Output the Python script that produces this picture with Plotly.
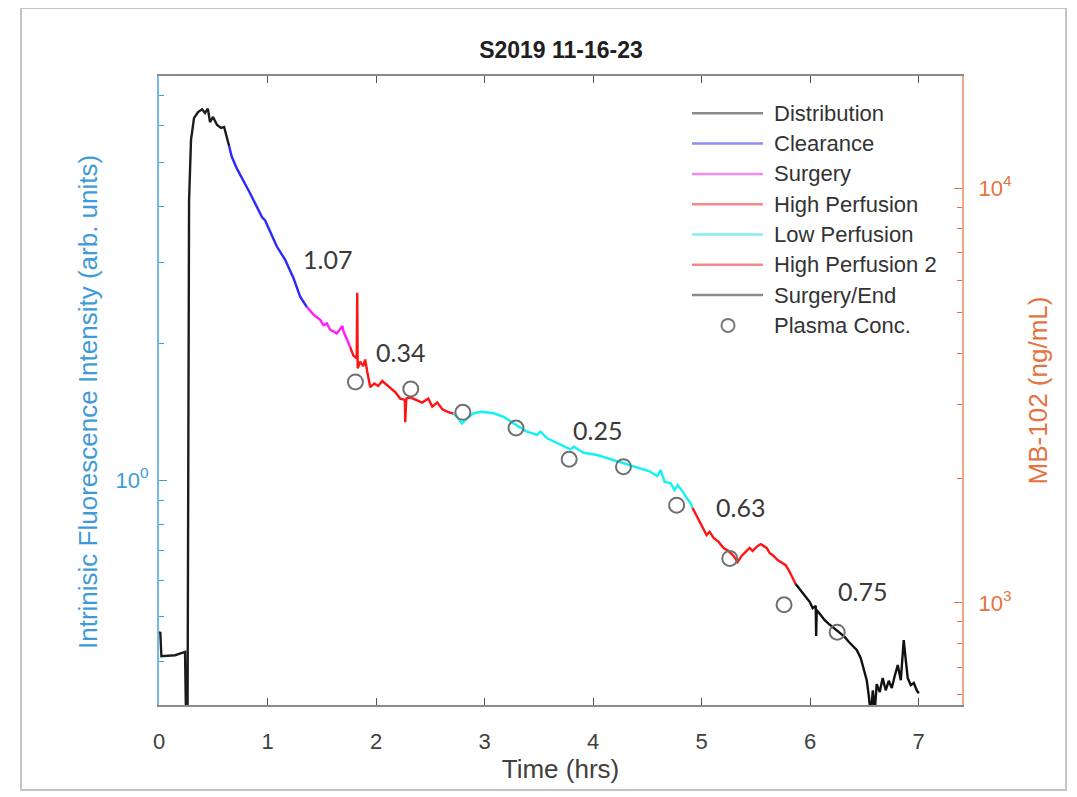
import plotly.graph_objects as go

# ---------------- data ----------------
dist_t = [0.0, 0.012, 0.022, 0.148, 0.24, 0.249, 0.263, 0.268, 0.277, 0.295, 0.323, 0.36, 0.397,
          0.424, 0.45, 0.47, 0.498, 0.535, 0.572, 0.6, 0.627, 0.646]
dist_v = [0.46, 0.463, 0.41, 0.412, 0.419, 0.30, 0.30, 1.50, 4.12, 5.59, 6.25, 6.44, 6.53,
          6.41, 6.55, 6.12, 6.28, 6.03, 5.94, 5.97, 5.59, 5.42]

clr_t = [0.646, 0.67, 0.717, 0.778, 0.839, 0.901, 0.95, 0.978, 1.008, 1.04, 1.086, 1.162,
         1.239, 1.301, 1.363]
clr_v = [5.42, 5.14, 4.84, 4.56, 4.27, 3.99, 3.78, 3.72, 3.58, 3.45, 3.26, 3.05,
         2.78, 2.53, 2.40]

srg_t = [1.363, 1.424, 1.485, 1.516, 1.547, 1.577, 1.639, 1.69, 1.701, 1.716, 1.762]
srg_v = [2.40, 2.31, 2.25, 2.19, 2.21, 2.14, 2.10, 2.18, 2.12, 2.08, 1.96]

hp1_t = [1.762, 1.79, 1.822, 1.827, 1.831, 1.854, 1.882, 1.90, 1.919, 1.947, 1.984, 2.02,
         2.057, 2.085, 2.131, 2.177, 2.223, 2.26, 2.266, 2.269, 2.279, 2.315, 2.371, 2.426,
         2.482, 2.518, 2.565, 2.611, 2.666, 2.712]
hp1_v = [1.96, 1.88, 1.85, 2.58, 1.76, 1.82, 1.78, 1.84, 1.73, 1.60, 1.63, 1.61,
         1.65, 1.63, 1.59, 1.56, 1.51, 1.50, 1.50, 1.34, 1.51, 1.52, 1.50, 1.48,
         1.51, 1.45, 1.48, 1.43, 1.41, 1.40]

lp_t = [2.712, 2.731, 2.792, 2.839, 2.899, 2.977, 3.084, 3.176, 3.268, 3.392, 3.484, 3.515,
        3.577, 3.699, 3.792, 3.822, 3.914, 4.038, 4.161, 4.283, 4.437, 4.52, 4.591, 4.622,
        4.66, 4.714, 4.75, 4.78, 4.837, 4.86, 4.9, 4.917]
lp_v = [1.40, 1.39, 1.332, 1.366, 1.402, 1.413, 1.402, 1.377, 1.332, 1.277, 1.256, 1.277,
        1.235, 1.194, 1.168, 1.184, 1.148, 1.135, 1.111, 1.088, 1.061, 1.045, 1.02, 1.052,
        0.99, 0.985, 0.95, 0.975, 0.935, 0.915, 0.889, 0.868]

hp2_t = [4.917, 4.963, 5.009, 5.046, 5.074, 5.111, 5.157, 5.203, 5.249, 5.295, 5.332, 5.369,
         5.406, 5.443, 5.47, 5.507, 5.544, 5.572, 5.60, 5.627, 5.664, 5.701, 5.738, 5.775,
         5.803, 5.839, 5.867]
hp2_v = [0.868, 0.825, 0.784, 0.757, 0.769, 0.746, 0.731, 0.709, 0.698, 0.681, 0.660, 0.681,
         0.695, 0.709, 0.698, 0.713, 0.723, 0.716, 0.709, 0.691, 0.681, 0.667, 0.657, 0.650,
         0.634, 0.609, 0.591]

end_t = [5.867, 5.913, 5.96, 5.996, 6.024, 6.052, 6.056, 6.061, 6.098, 6.135, 6.172, 6.208,
         6.245, 6.282, 6.319, 6.356, 6.393, 6.43, 6.467, 6.494, 6.522, 6.54, 6.559, 6.578,
         6.596, 6.614, 6.642, 6.669, 6.697, 6.725, 6.753, 6.78, 6.808, 6.836, 6.863, 6.882,
         6.90, 6.928, 6.956, 6.983, 7.002]
end_v = [0.591, 0.573, 0.553, 0.540, 0.523, 0.529, 0.454, 0.518, 0.505, 0.492, 0.483, 0.475,
         0.468, 0.459, 0.452, 0.441, 0.432, 0.423, 0.406, 0.386, 0.363, 0.337, 0.305, 0.345,
         0.31, 0.356, 0.342, 0.367, 0.345, 0.362, 0.349, 0.371, 0.392, 0.363, 0.445, 0.402,
         0.367, 0.354, 0.358, 0.345, 0.340]

plasma_t = [1.81, 2.32, 2.80, 3.29, 3.78, 4.28, 4.77, 5.26, 5.76, 6.25]
plasma_c = [3410, 3280, 2880, 2640, 2220, 2130, 1720, 1280, 990, 850]

slope_labels = ["1.07", "0.34", "0.25", "0.63", "0.75"]
slope_t = [1.55, 2.23, 4.04, 5.36, 6.48]
slope_logy = [0.486, 0.281, 0.110, -0.059, -0.244]

x_ticks = [0, 1, 2, 3, 4, 5, 6, 7]

series_names = ["Distribution", "Clearance", "Surgery", "High Perfusion",
                "Low Perfusion", "High Perfusion 2", "Surgery/End"]
series_t = [dist_t, clr_t, srg_t, hp1_t, lp_t, hp2_t, end_t]
series_v = [dist_v, clr_v, srg_v, hp1_v, lp_v, hp2_v, end_v]
series_colors = ["#1c1c1c", "#2a2aff", "#ff1cff", "#ff1414", "#12f2f2", "#ff1414", "#111111"]
legend_line_colors = ["#8a8a8a", "#8c8cf2", "#f08cf0", "#f28a8a", "#86eef2", "#f28a8a", "#8a8a8a"]
plasma_name = "Plasma Conc."
left_title = "Intrinisic Fluorescence Intensity (arb. units)"

# ---------------- geometry (page pixels; page body has an 8px margin) ----------------
W, H = 1077, 797
OFF = 8
L, R, T, B = 159, 962, 76, 705
PW, PH = R - L, B - T


def px(xp):
    return (xp - L) / PW


def py(yp):
    return (B - yp) / PH


BLUE = "#3f9bd8"
BLUE_LINE = "#78b8e6"
ORANGE = "#e4733f"
ORANGE_LINE = "#f2a687"
GRAY_TXT = "#404040"
FONT = "Liberation Sans, Arial, sans-serif"

fig = go.Figure()
for name, t, v, c in zip(series_names, series_t, series_v, series_colors):
    fig.add_trace(go.Scatter(x=t, y=v, mode="lines", name=name,
                             line=dict(color=c, width=2.4), showlegend=False))

fig.add_trace(go.Scatter(x=plasma_t, y=plasma_c, mode="markers", name=plasma_name,
                         yaxis="y2", showlegend=False,
                         marker=dict(symbol="circle-open", size=15,
                                     line=dict(color="#707070", width=2),
                                     color="#707070")))

for lab, t, ly in zip(slope_labels, slope_t, slope_logy):
    fig.add_annotation(x=t, y=ly, xref="x", yref="y", text=lab, showarrow=False,
                       font=dict(family="Lato, Open Sans, sans-serif", size=25, color="#3a3a3a"))

# custom legend (MATLAB-style long line samples)
shapes = []
row0, drow = 113.3, 30.3
for i, (name, c) in enumerate(zip(series_names, legend_line_colors)):
    yy = row0 + i * drow
    shapes.append(dict(type="line", xref="paper", yref="paper",
                       x0=px(692), x1=px(763), y0=py(yy), y1=py(yy),
                       line=dict(color=c, width=2.5)))
    fig.add_annotation(x=px(772), y=py(yy), xref="paper", yref="paper", text=name,
                       showarrow=False, xanchor="left", yanchor="middle",
                       font=dict(family=FONT, size=22, color="#333333"))
yy = row0 + 7 * drow
r = 6.5
shapes.append(dict(type="circle", xref="paper", yref="paper",
                   x0=px(728 - r), x1=px(728 + r), y0=py(yy + r), y1=py(yy - r),
                   line=dict(color="#777777", width=2)))
fig.add_annotation(x=px(772), y=py(yy), xref="paper", yref="paper", text=plasma_name,
                   showarrow=False, xanchor="left", yanchor="middle",
                   font=dict(family=FONT, size=22, color="#333333"))

# left axis title (placed like the reference)
fig.add_annotation(x=px(88), y=py(402), xref="paper", yref="paper", text=left_title,
                   textangle=-90, showarrow=False, xanchor="center", yanchor="middle",
                   font=dict(family=FONT, size=26, color=BLUE))

# screenshot frame
shapes.append(dict(type="rect", xref="paper", yref="paper", layer="below",
                   x0=px(21), x1=px(1066), y0=py(790), y1=py(8),
                   line=dict(color="#c4c4c4", width=2)))

fig.update_layout(
    width=W, height=H,
    margin=dict(l=L - OFF, r=W + OFF - R, t=T - OFF, b=H + OFF - B, autoexpand=False),
    paper_bgcolor="white", plot_bgcolor="white",
    showlegend=False,
    shapes=shapes,
    title=dict(text="<b>S2019 11-16-23</b>", x=px(561), xref="paper", xanchor="center",
               y=1 - (50 - OFF) / H, yanchor="middle",
               font=dict(family=FONT, size=23, color="#202020")),
    xaxis=dict(range=[0, 7.4], tickmode="array", tickvals=x_ticks,
               ticks="inside", ticklen=7, tickwidth=1.2, tickcolor="#555555",
               showline=True, linecolor="#8a8a8a", linewidth=2, mirror="ticks",
               showgrid=False, zeroline=False, automargin=False,
               tickfont=dict(family=FONT, size=22, color=GRAY_TXT),
               ticklabelstandoff=16,
               title=dict(text="Time (hrs)", standoff=4,
                          font=dict(family=FONT, size=26, color=GRAY_TXT))),
    yaxis=dict(type="log", range=[-0.4945, 0.888], tickmode="array", tickvals=[1],
               ticktext=["10<sup>0</sup>"],
               ticks="inside", ticklen=8, tickwidth=1.2, tickcolor=BLUE,
               minor=dict(tickmode="array",
                          tickvals=[0.4, 0.5, 0.6, 0.7, 0.8, 0.9, 2, 3, 4, 5, 6, 7],
                          ticks="inside", ticklen=5, tickwidth=1.2, tickcolor=BLUE,
                          showgrid=False),
               showline=True, linecolor=BLUE_LINE, linewidth=2,
               showgrid=False, zeroline=False, automargin=False,
               tickfont=dict(family=FONT, size=22, color=BLUE),
               ticklabelstandoff=4),
    yaxis2=dict(type="log", range=[2.754, 4.270], overlaying="y", side="right",
                tickmode="array", tickvals=[1000, 10000],
                ticktext=["10<sup>3</sup>", "10<sup>4</sup>"],
                ticks="inside", ticklen=8, tickwidth=1.2, tickcolor=ORANGE,
                minor=dict(tickmode="array",
                           tickvals=[600, 700, 800, 900, 2000, 3000, 4000, 5000,
                                     6000, 7000, 8000, 9000],
                           ticks="inside", ticklen=5, tickwidth=1.2, tickcolor=ORANGE,
                           showgrid=False),
                showline=True, linecolor=ORANGE_LINE, linewidth=2,
                showgrid=False, zeroline=False, automargin=False,
                tickfont=dict(family=FONT, size=22, color=ORANGE),
                ticklabelstandoff=10,
                title=dict(text="MB-102 (ng/mL)", standoff=18,
                           font=dict(family=FONT, size=26, color=ORANGE))),
)

fig.write_html("out.html")
